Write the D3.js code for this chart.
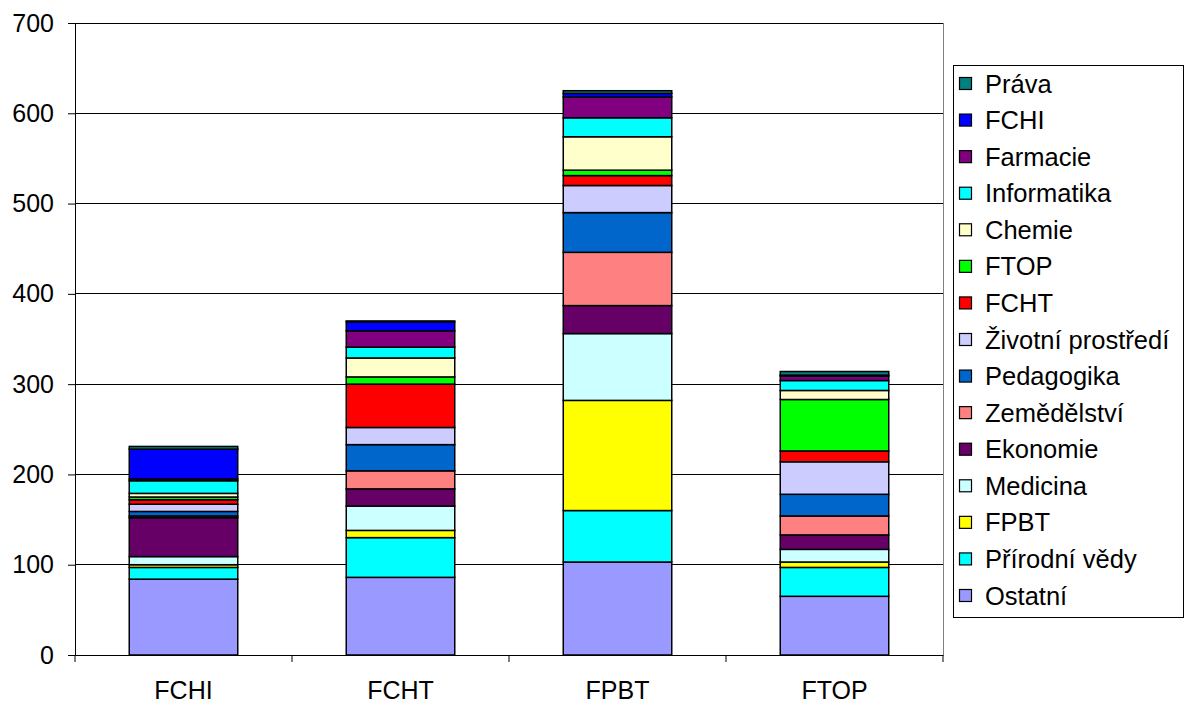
<!DOCTYPE html>
<html><head><meta charset="utf-8">
<script src="https://cdn.jsdelivr.net/npm/d3@7"></script>
<style>body{margin:0;background:#fff}svg{display:block;font-family:Arial,"Liberation Sans",sans-serif}</style>
</head><body><svg id="c" width="1189" height="705"></svg>
<script>
const categories = ["FCHI","FCHT","FPBT","FTOP"];
const seriesNames = ["Ostatní","Přírodní vědy","FPBT","Medicina","Ekonomie","Zemědělství","Pedagogika","Životní prostředí","FCHT","FTOP","Chemie","Informatika","Farmacie","FCHI","Práva"];
const seriesColors = ["#9999FF","#00FFFF","#FFFF00","#CCFFFF","#660066","#FF8080","#0066CC","#CCCCFF","#FF0000","#00FF00","#FFFFCC","#00FFFF","#800080","#0000FF","#008080"];
const valOstatni = [84,86,103,65];
const valPrirodni = [13,44,57,32];
const valFPBT = [3,8,122,6];
const valMedicina = [9,27,74,14];
const valEkonomie = [43,19,31,16];
const valZemedelstvi = [2,20,59,21];
const valPedagogika = [5,29,44,24];
const valZivotni = [8,19,30,36];
const valFCHT = [5,48,11,12];
const valFTOP = [3,8,6,57];
const valChemie = [4,21,37,10];
const valInformatika = [14,12,21,11];
const valFarmacie = [2,18,23,5];
const valFCHI = [33,10,4,1];
const valPrava = [3,1,3,4];
const yTicks = [0,100,200,300,400,500,600,700];

const seriesValues = [valOstatni,valPrirodni,valFPBT,valMedicina,valEkonomie,valZemedelstvi,valPedagogika,valZivotni,valFCHT,valFTOP,valChemie,valInformatika,valFarmacie,valFCHI,valPrava];
const table = categories.map((c,i)=>{const o={cat:c};seriesNames.forEach((s,j)=>o[s]=seriesValues[j][i]);return o;});

const FONT = "Arial,'Liberation Sans',sans-serif";
const svg = d3.select("#c");
const L=75,R=943,T=23,B=655;
const x = d3.scaleBand().domain(categories).range([L,R]).paddingInner(0.5).paddingOuter(0.25);
const y = d3.scaleLinear().domain([0,700]).range([B,T]);

// gridlines
svg.append("g").selectAll("line").data(yTicks.slice(1)).join("line")
  .attr("x1",L).attr("x2",R).attr("y1",d=>y(d)).attr("y2",d=>y(d))
  .attr("stroke","#000").attr("stroke-width",1).attr("shape-rendering","crispEdges");
// right border
svg.append("line").attr("x1",R).attr("x2",R).attr("y1",T).attr("y2",B).attr("stroke","#808080").attr("shape-rendering","crispEdges");

const stack = d3.stack().keys(seriesNames)(table);
svg.append("g").selectAll("g").data(stack).join("g")
  .attr("fill",(d,i)=>seriesColors[i])
  .selectAll("rect").data(d=>d).join("rect")
  .attr("x",d=>x(d.data.cat)).attr("width",x.bandwidth())
  .attr("y",d=>y(d[1])).attr("height",d=>y(d[0])-y(d[1]))
  .attr("stroke","#000").attr("stroke-width",1.5);

// y axis
const ya = svg.append("g").attr("transform",`translate(${L},0)`)
  .call(d3.axisLeft(y).tickValues(yTicks).tickSize(7).tickPadding(14));
ya.attr("font-size",25).attr("font-family",FONT);
ya.select(".domain").attr("stroke","#000");
ya.selectAll("text").attr("fill","#000");
// x axis
const xa = svg.append("g").attr("transform",`translate(0,${B})`)
  .call(d3.axisBottom(x).tickSize(0).tickPadding(26));
xa.attr("font-size",25).attr("font-family",FONT);
xa.select(".domain").attr("stroke","#000");
xa.selectAll("text").attr("fill","#000");
const step = x.step();
svg.append("g").selectAll("line").data(d3.range(categories.length+1)).join("line")
  .attr("x1",d=>L+d*step).attr("x2",d=>L+d*step).attr("y1",B).attr("y2",B+7).attr("stroke","#000");

// legend
const lg = svg.append("g").attr("font-family",FONT);
lg.append("rect").attr("x",953.5).attr("y",65.5).attr("width",230).attr("height",552).attr("fill","#fff").attr("stroke","#000");
const order = seriesNames.map((s,i)=>i).reverse();
const ly = d3.scaleLinear().domain([0,14]).range([84,596]);
order.forEach((si,k)=>{
  lg.append("rect").attr("x",959.5).attr("y",ly(k)-6.5).attr("width",12).attr("height",12)
    .attr("fill",seriesColors[si]).attr("stroke","#000").attr("stroke-width",1.2);
  lg.append("text").attr("x",985).attr("y",ly(k)+8.5).attr("font-size",25.5).attr("fill","#000").text(seriesNames[si]);
});
</script></body></html>
